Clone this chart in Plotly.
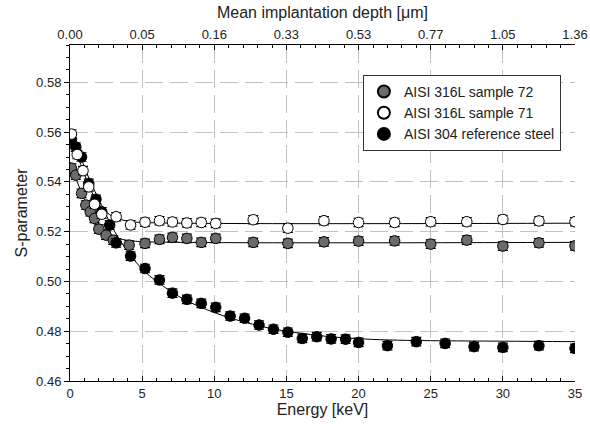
import plotly.graph_objects as go

# ---------------- data ----------------
energy_72 = [0.1, 0.4, 0.8, 1.1, 1.4, 1.7, 2.0, 2.5, 3.0, 4.1, 5.2, 6.2, 7.1, 8.1, 9.1, 10.1,
             12.7, 15.1, 17.6, 20.0, 22.5, 25.0, 27.5, 30.0, 32.5, 35.0]
s_72 = [0.5455, 0.5427, 0.5354, 0.5307, 0.5280, 0.5253, 0.5210, 0.5186, 0.5166, 0.5146, 0.5153,
        0.5169, 0.5177, 0.5173, 0.5157, 0.5173, 0.5157, 0.5153, 0.5159, 0.5162, 0.5163, 0.5150,
        0.5166, 0.5142, 0.5155, 0.5143]

energy_71 = [0.1, 0.5, 0.9, 1.3, 1.7, 2.2, 3.2, 4.2, 5.2, 6.2, 7.1, 8.1, 9.1, 10.1,
             12.7, 15.1, 17.6, 20.0, 22.5, 25.0, 27.5, 30.0, 32.5, 35.0]
s_71 = [0.5592, 0.5510, 0.5445, 0.5380, 0.5310, 0.5270, 0.5260, 0.5227, 0.5238, 0.5244, 0.5239,
        0.5235, 0.5237, 0.5233, 0.5248, 0.5214, 0.5244, 0.5237, 0.5237, 0.5240, 0.5240, 0.5249,
        0.5243, 0.5240]

energy_304 = [0.1, 0.4, 0.8, 1.3, 1.8, 2.2, 2.75, 3.2, 4.2, 5.2, 6.2, 7.1, 8.1, 9.1, 10.1, 11.1,
              12.1, 13.1, 14.1, 15.1, 16.1, 17.1, 18.1, 19.1, 20.0, 22.0, 24.0, 26.0, 28.0, 30.0,
              32.5, 35.0]
s_304 = [0.5570, 0.5540, 0.5500, 0.5394, 0.5330, 0.5280, 0.5227, 0.5155, 0.5102, 0.5052, 0.5006,
         0.4953, 0.4928, 0.4912, 0.4896, 0.4861, 0.4852, 0.4825, 0.4808, 0.4796, 0.4771, 0.4778,
         0.4769, 0.4768, 0.4755, 0.4742, 0.4758, 0.4751, 0.4738, 0.4735, 0.4742, 0.4731]

s_err = 0.0017

# fitted curves
fit_e_72 = [0, 0.5, 1, 1.5, 2, 2.5, 3, 4, 5, 35]
fit_s_72 = [0.5480, 0.5400, 0.5330, 0.5270, 0.5230, 0.5200, 0.5180, 0.5165, 0.5160, 0.5157]
fit_e_71 = [0, 0.5, 1, 1.5, 2, 2.5, 3, 4, 5, 35]
fit_s_71 = [0.5600, 0.5510, 0.5430, 0.5360, 0.5310, 0.5280, 0.5260, 0.5242, 0.5237, 0.5234]
fit_e_304 = [0, 0.5, 1, 1.5, 2, 3, 4, 5, 6, 7, 8, 10, 12, 14, 16, 18, 20, 22, 25, 30, 35]
fit_s_304 = [0.5580, 0.5530, 0.5460, 0.5390, 0.5330, 0.5210, 0.5120, 0.5050, 0.5000, 0.4960,
             0.4925, 0.4875, 0.4838, 0.4810, 0.4792, 0.4778, 0.4770, 0.4765, 0.4762, 0.4760,
             0.4758]

energy_ticks = [0, 5, 10, 15, 20, 25, 30, 35]
depth_labels = ["0.00", "0.05", "0.16", "0.33", "0.53", "0.77", "1.05", "1.36"]
s_ticks = [0.46, 0.48, 0.50, 0.52, 0.54, 0.56, 0.58]

FONT = "Liberation Sans, Arial, sans-serif"

fig = go.Figure()

for fe, fs in [(fit_e_72, fit_s_72), (fit_e_71, fit_s_71), (fit_e_304, fit_s_304)]:
    fig.add_trace(go.Scatter(x=fe, y=fs, mode="lines", line=dict(color="black", width=1, shape="spline"),
                             showlegend=False, hoverinfo="skip"))

def pts(x, y, fill, name, rank):
    return go.Scatter(
        x=x, y=y, mode="markers", name=name, legendrank=rank,
        marker=dict(size=10.5, color=fill, line=dict(color="black", width=1)),
        error_y=dict(type="constant", value=s_err, color="black", thickness=1.2, width=5),
    )

fig.add_trace(pts(energy_72, s_72, "#6b6b6b", "AISI 316L sample 72", 1))
fig.add_trace(pts(energy_304, s_304, "#000000", "AISI 304 reference steel", 3))
fig.add_trace(pts(energy_71, s_71, "#ffffff", "AISI 316L sample 71", 2))

# invisible trace to anchor the top axis
fig.add_trace(go.Scatter(x=[0, 35], y=[0.5, 0.5], xaxis="x2", mode="markers",
                         marker=dict(opacity=0), showlegend=False, hoverinfo="skip"))

grid = dict(showgrid=True, gridcolor="#c2c2c2", gridwidth=1, griddash="18px,7px")

fig.update_layout(
    width=590, height=430,
    margin=dict(l=70, r=15, t=45, b=49),
    paper_bgcolor="white", plot_bgcolor="white",
    font=dict(family=FONT, size=13, color="#222222"),
    showlegend=True,
    legend=dict(x=0.58, y=0.911, xanchor="left", yanchor="top",
                bordercolor="#333333", borderwidth=1, bgcolor="white",
                font=dict(family=FONT, size=14), tracegroupgap=0, itemwidth=30,
                itemsizing="constant"),
    xaxis=dict(range=[0, 35], tickvals=energy_ticks, zeroline=False, automargin=False,
               showline=True, linecolor="black", linewidth=1,
               ticks="inside", ticklen=5, tickcolor="black",
               minor=dict(dtick=1, ticks="inside", ticklen=3, tickcolor="black", showgrid=False),
               title=dict(text="Energy [keV]", font=dict(size=16), standoff=3),
               **grid),
    xaxis2=dict(range=[0, 35], overlaying="x", side="top", anchor="y", automargin=False,
                tickvals=energy_ticks, ticktext=depth_labels, zeroline=False,
                showline=True, linecolor="black", linewidth=1, showgrid=False,
                ticks="inside", ticklen=5, tickcolor="black",
                minor=dict(dtick=1, ticks="inside", ticklen=3, tickcolor="black"),
                title=dict(text="Mean implantation depth [μm]", font=dict(size=16), standoff=4)),
    yaxis=dict(range=[0.46, 0.595], tickvals=s_ticks, tickformat=".2f", zeroline=False,
               automargin=False,
               showline=True, linecolor="black", linewidth=1,
               ticks="outside", ticklen=5, tickcolor="black",
               minor=dict(dtick=0.005, tick0=0.46, ticks="outside", ticklen=3, tickcolor="black", showgrid=False),
               title=dict(text="S-parameter", font=dict(size=16), standoff=4),
               **grid),
)

fig.write_html(
    "out.html",
    config={"displayModeBar": False},
    post_script="document.body.style.margin='0';document.body.style.overflow='hidden';",
)
